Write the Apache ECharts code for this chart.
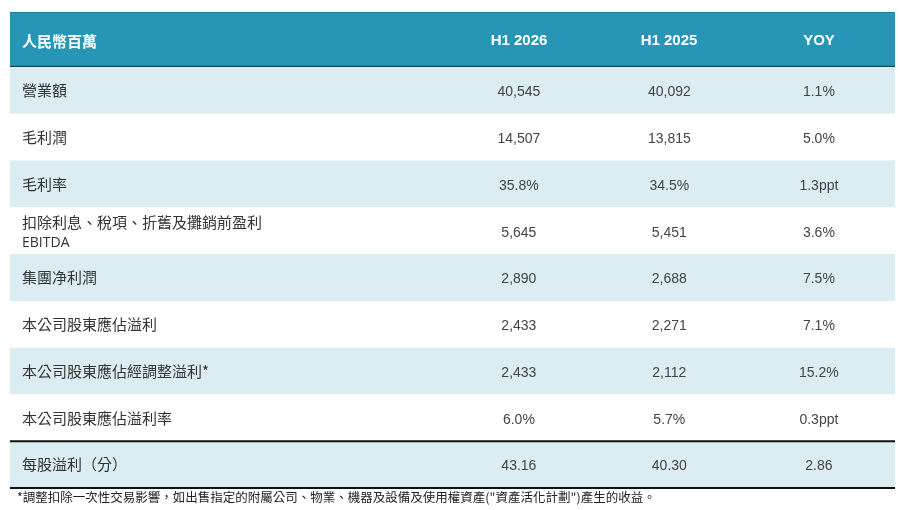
<!DOCTYPE html>
<html>
<head>
<meta charset="utf-8">
<script src="https://cdn.jsdelivr.net/npm/echarts@6/dist/echarts.min.js"></script>
<style>
html, body { margin: 0; padding: 0; background: #fff; }
#main { width: 900px; height: 510px; }
</style>
</head>
<body>
<div id="main"></div>
<script>
// 表頭與數據
var headers = ['人民幣百萬', 'H1 2026', 'H1 2025', 'YOY'];
var items = ['營業額', '毛利潤', '毛利率', '扣除利息、稅項、折舊及攤銷前盈利\nEBITDA', '集團净利潤',
	'本公司股東應佔溢利', '本公司股東應佔經調整溢利*', '本公司股東應佔溢利率', '每股溢利（分）'];
var h1_2026 = ['40,545', '14,507', '35.8%', '5,645', '2,890', '2,433', '2,433', '6.0%', '43.16'];
var h1_2025 = ['40,092', '13,815', '34.5%', '5,451', '2,688', '2,271', '2,112', '5.7%', '40.30'];
var yoy = ['1.1%', '5.0%', '1.3ppt', '3.6%', '7.5%', '7.1%', '15.2%', '0.3ppt', '2.86'];
var footnote = '*調整扣除一次性交易影響，如出售指定的附屬公司、物業、機器及設備及使用權資產("資產活化計劃")產生的收益。';

var CJK = '"Noto Sans CJK TC", "Noto Sans CJK SC", sans-serif';
var NUM = '"Liberation Sans", Arial, sans-serif';
var colX = [0.0136, 0.575, 0.745, 0.914];

var chart = echarts.init(document.getElementById('main'));

var rows = items.map(function (name, i) {
	return [i, name, h1_2026[i], h1_2025[i], yoy[i]];
});

function renderRow(params, api) {
	var cs = params.coordSys;
	var i = api.value(0);
	var h = api.size([0, 1])[1];
	var top = api.coord([0, i])[1] - h / 2;
	var cy = top + h / 2;
	var label = items[i].split('\n');
	var children = [{
		type: 'rect',
		shape: { x: cs.x, y: top, width: cs.width, height: h },
		style: { fill: i % 2 === 0 ? '#dbedf3' : '#ffffff' }
	}, {
		type: 'text',
		style: {
			x: cs.x + colX[0] * cs.width, y: label.length > 1 ? cy - 8 : cy,
			text: label[0], fill: '#333',
			font: '15px ' + CJK, verticalAlign: 'middle'
		}
	}];
	if (label.length > 1) {
		children.push({
			type: 'text',
			style: {
				x: cs.x + colX[0] * cs.width, y: cy + 12,
				text: label[1], fill: '#333',
				font: '14px "Open Sans", sans-serif', verticalAlign: 'middle'
			}
		});
	}
	var vals = [h1_2026[i], h1_2025[i], yoy[i]];
	for (var k = 0; k < 3; k++) {
		children.push({
			type: 'text',
			style: {
				x: cs.x + colX[k + 1] * cs.width, y: cy + 2,
				text: vals[k], fill: '#444', align: 'center',
				font: '14px ' + NUM, verticalAlign: 'middle'
			}
		});
	}
	if (i === items.length - 1) {
		children.push({
			type: 'line', shape: { x1: cs.x, y1: top, x2: cs.x + cs.width, y2: top },
			style: { stroke: '#111', lineWidth: 2 }
		});
		children.push({
			type: 'line', shape: { x1: cs.x, y1: top + h, x2: cs.x + cs.width, y2: top + h },
			style: { stroke: '#111', lineWidth: 2 }
		});
	}
	return { type: 'group', children: children };
}

chart.setOption({
	animation: false,
	grid: { left: 10, right: 5, top: 67, bottom: 22 },
	xAxis: { type: 'value', min: 0, max: 1, show: false },
	yAxis: { type: 'category', data: items, inverse: true, show: false },
	graphic: [
		{ type: 'rect', shape: { x: 10, y: 12, width: 885, height: 55 }, style: { fill: '#2795b5' } },
		{ type: 'line', shape: { x1: 10, y1: 12.5, x2: 895, y2: 12.5 }, style: { stroke: '#1f7f9c', lineWidth: 1 } },
		{ type: 'line', shape: { x1: 10, y1: 66.5, x2: 895, y2: 66.5 }, style: { stroke: '#1b4656', lineWidth: 1.5 } },
		{ type: 'text', style: { x: 22, y: 41, text: headers[0], fill: '#fff', font: 'bold 15px ' + CJK, verticalAlign: 'middle' } },
		{ type: 'text', style: { x: 519, y: 41, text: headers[1], fill: '#fff', font: 'bold 15px ' + NUM, align: 'center', verticalAlign: 'middle' } },
		{ type: 'text', style: { x: 669, y: 41, text: headers[2], fill: '#fff', font: 'bold 15px ' + NUM, align: 'center', verticalAlign: 'middle' } },
		{ type: 'text', style: { x: 819, y: 41, text: headers[3], fill: '#fff', font: 'bold 15px ' + NUM, align: 'center', verticalAlign: 'middle' } },
		{ type: 'text', style: { x: 17, y: 497, text: footnote, fill: '#222', font: '12.5px ' + CJK, verticalAlign: 'middle' } }
	],
	series: [{
		type: 'custom',
		renderItem: renderRow,
		data: rows,
		encode: { y: 0 }
	}]
});
</script>
</body>
</html>
